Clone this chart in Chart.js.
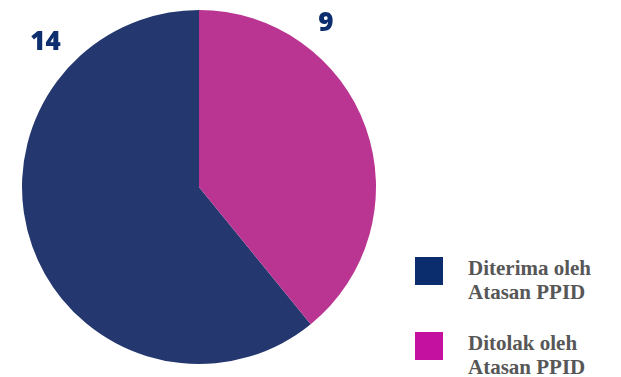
<!DOCTYPE html>
<html>
<head>
<meta charset="utf-8">
<script src="https://cdn.jsdelivr.net/npm/chart.js@4/dist/chart.umd.min.js"></script>
<style>
  body { margin: 0; background: #fff; width: 621px; height: 377px; position: relative; overflow: hidden; }
  #wrap { position: absolute; left: 0; top: 0; width: 398px; height: 374px; }
  .item { position: absolute; left: 415px; }
  .box { position: absolute; left: 0; top: 0; width: 28px; height: 28px; }
  .txt { position: absolute; left: 53px; top: -1px; white-space: nowrap;
         font-family: "Liberation Serif", serif; font-weight: bold; font-size: 21px;
         line-height: 24px; color: #575757; }
</style>
</head>
<body>
<div id="wrap"><canvas id="pieChart"></canvas></div>
<div id="legend"></div>
<script>
const categories = ['Diterima oleh Atasan PPID', 'Ditolak oleh Atasan PPID'];
const legendLines = [['Diterima oleh', 'Atasan PPID'], ['Ditolak oleh', 'Atasan PPID']];
const values = [14, 9];
const sliceColors = ['#24386F', '#BA3591'];
const legendColors = ['#0B2D6E', '#C511A0'];
// where each count sits around the rim (degrees clockwise from 12 o'clock, px outside the edge)
const labelAngles = [-46.7, 37.8];
const labelOffsets = [34, 30];

const total = values.reduce((a, b) => a + b, 0);

// build the legend on the right
const legend = document.getElementById('legend');
categories.forEach((cat, i) => {
  const item = document.createElement('div');
  item.className = 'item';
  item.style.top = (257 + i * 75) + 'px';
  item.title = cat;
  item.innerHTML = `<div class="box" style="background:${legendColors[i]}"></div>` +
    `<div class="txt">${legendLines[i].join('<br>')}</div>`;
  legend.appendChild(item);
});

const countLabels = {
  id: 'countLabels',
  afterDatasetsDraw(chart) {
    const { ctx } = chart;
    const arcs = chart.getDatasetMeta(0).data;
    ctx.save();
    ctx.font = '800 26px "Open Sans", sans-serif';
    ctx.fillStyle = '#0D2F6F';
    ctx.textAlign = 'center';
    ctx.textBaseline = 'middle';
    arcs.forEach((arc, i) => {
      const a = labelAngles[i] * Math.PI / 180;
      const r = arc.outerRadius + labelOffsets[i];
      ctx.fillText(String(values[i]), arc.x + r * Math.sin(a), arc.y - r * Math.cos(a));
    });
    ctx.restore();
  }
};

new Chart(document.getElementById('pieChart').getContext('2d'), {
  type: 'pie',
  data: {
    labels: categories,
    datasets: [{
      data: values,
      backgroundColor: sliceColors,
      borderWidth: 0
    }]
  },
  options: {
    responsive: true,
    maintainAspectRatio: false,
    animation: false,
    rotation: 360 * values[1] / total, // second slice starts at the top
    layout: { padding: 10 },
    plugins: {
      legend: { display: false },
      tooltip: { enabled: false }
    }
  },
  plugins: [countLabels]
});
</script>
</body>
</html>
